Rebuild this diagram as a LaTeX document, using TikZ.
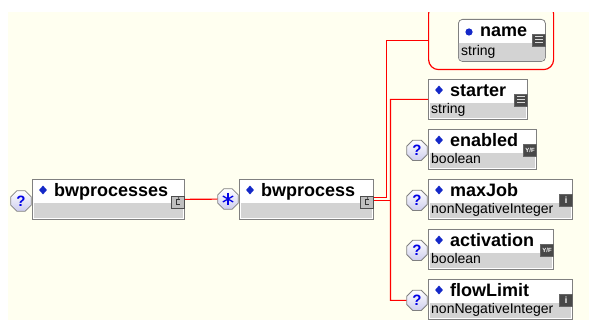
\documentclass[tikz,border=0pt]{standalone}
\usepackage{fontspec}
\setmainfont{Liberation Sans}
\usetikzlibrary{shapes.geometric,calc}
\definecolor{cream}{RGB}{255,255,240}
\definecolor{boxgrey}{RGB}{128,128,128}
\definecolor{typegrey}{RGB}{211,211,211}
\definecolor{icondark}{RGB}{72,72,72}
\definecolor{qblue}{RGB}{0,0,230}
\definecolor{qfill}{RGB}{205,205,238}
\definecolor{diamblue}{RGB}{20,40,200}

\begin{document}
\begin{tikzpicture}[x=1pt,y=-1pt,
    elembox/.style={draw=boxgrey,fill=white,line width=0.8pt,minimum height=40pt,inner sep=0pt},
    attrbox/.style={elembox,rounded corners=4pt,minimum height=42pt},
    grpbox/.style={draw=red,line width=1.2pt,rounded corners=10pt,minimum width=125pt,minimum height=66pt,inner sep=0pt},
    titletext/.style={font=\fontsize{18}{20}\selectfont\bfseries,inner sep=0pt,anchor=base west},
    typetext/.style={font=\fontsize{14}{16}\selectfont,inner sep=0pt,anchor=base west},
    elemmark/.style={diamond,fill=diamblue,minimum width=8pt,minimum height=9pt,inner sep=0pt},
    optmark/.style={regular polygon,regular polygon sides=8,minimum size=22pt,inner sep=0pt,
      draw=gray,line width=0.8pt,top color=white,bottom color=qfill,text=qblue,
      font=\fontsize{15}{15}\selectfont\bfseries},
    icon/.style={draw=black!60,fill=icondark,minimum width=13pt,minimum height=12pt,inner sep=0pt,text=white,anchor=east},
    icon-str/.style={node contents={},path picture={
      \draw[white!70!gray,line width=1pt] ([shift={(2.5pt,3pt)}]path picture bounding box.west) -- ([shift={(-2.5pt,3pt)}]path picture bounding box.east);
      \draw[white!70!gray,line width=1pt] ([xshift=2.5pt]path picture bounding box.west) -- ([xshift=-2.5pt]path picture bounding box.east);
      \draw[white!70!gray,line width=1pt] ([shift={(2.5pt,-3pt)}]path picture bounding box.west) -- ([shift={(-2.5pt,-3pt)}]path picture bounding box.east);}},
    icon-bool/.style={node contents={Y/F},font=\fontsize{6}{6}\selectfont\bfseries},
    icon-int/.style={node contents={i},font=\fontsize{9}{9}\selectfont\bfseries},
    seqicon/.style={icon,fill=gray!50,draw=black!70,node contents={},path picture={
      \draw[black!80,line width=0.7pt] ([shift={(2pt,2.5pt)}]path picture bounding box.center) -- ([shift={(-1.5pt,2.5pt)}]path picture bounding box.center)
        -- ([shift={(-1.5pt,-2.5pt)}]path picture bounding box.center) -- ([shift={(2pt,-2.5pt)}]path picture bounding box.center);
      \fill[black!80] ([shift={(0.5pt,4pt)}]path picture bounding box.center) circle (0.8pt);}},
    conn/.style={draw=red,line width=1.2pt},
  ]
\useasboundingbox (0,0) rectangle (589,320);
\fill[cream] (8,12) rectangle (589,320);

% attribute group, cut off at the top
\node[grpbox,anchor=north west] (grp) at (428,3) {};
\fill[white] (0,0) rectangle (589,12);

% attribute name
\node[attrbox,minimum width=87pt,anchor=north west] (name) at (458,19) {};
\begin{scope}
  \clip[rounded corners=4pt] ([shift={(0.8pt,0.8pt)}]name.south west) rectangle ([shift={(-0.8pt,-0.8pt)}]name.north east);
  \fill[typegrey] (name.south west) rectangle ([yshift=19pt]name.south east);
\end{scope}
\fill[diamblue] ([shift={(11pt,-13pt)}]name.north west) circle (3.6pt);
\node[titletext] (name-t) at ([shift={(22pt,-18pt)}]name.north west) {name};
\node[typetext] (name-ty) at ([shift={(3pt,-37pt)}]name.north west) {string};
\node (name-ic) at ([yshift=-21pt]name.north east) [icon,icon-str];

% root element
\node[optmark] (q0) at (21,201) {?};
\node[elembox,minimum width=152pt,anchor=north west] (bwprocesses) at (32,179) {};
\fill[typegrey] ([shift={(1.5pt,1.5pt)}]bwprocesses.south west) rectangle ([shift={(-1.5pt,17pt)}]bwprocesses.south east);
\node[elemmark] at ([shift={(11pt,-11pt)}]bwprocesses.north west) {};
\node[titletext] (bwprocesses-t) at ([shift={(22pt,-18pt)}]bwprocesses.north west) {bwprocesses};
\node (bwprocesses-ic) at ([yshift=-23pt]bwprocesses.north east) [seqicon];

% repeated element
\node[optmark] (many) at (228,199) {};
\foreach \a in {90,30,150}
  \draw[qblue,line width=1.3pt] ($(many)+(\a:6pt)$) -- ($(many)+(\a+180:6pt)$);
\node[elembox,minimum width=134pt,anchor=north west] (bwprocess) at (239,179) {};
\fill[typegrey] ([shift={(1.5pt,1.5pt)}]bwprocess.south west) rectangle ([shift={(-1.5pt,17pt)}]bwprocess.south east);
\node[elemmark] at ([shift={(11pt,-11pt)}]bwprocess.north west) {};
\node[titletext] (bwprocess-t) at ([shift={(22pt,-18pt)}]bwprocess.north west) {bwprocess};
\node (bwprocess-ic) at ([yshift=-23pt]bwprocess.north east) [seqicon];

% child elements
\foreach \n/\t/\w/\typ/\ic/\o in {starter/79/99/string/str/0,
    enabled/129/108/boolean/bool/1,
    maxJob/179/144/nonNegativeInteger/int/1,
    activation/229/125/boolean/bool/1,
    flowLimit/279/144/nonNegativeInteger/int/1}{
  \node[elembox,minimum width=\w pt,anchor=north west] (\n) at (428,\t) {};
  \fill[typegrey] ([shift={(1.5pt,1.5pt)}]\n.south west) rectangle ([shift={(-1.5pt,17pt)}]\n.south east);
  \node[elemmark] at ([shift={(11pt,-11pt)}]\n.north west) {};
  \node[titletext] (\n-t) at ([shift={(22pt,-18pt)}]\n.north west) {\n};
  \node[typetext] (\n-ty) at ([shift={(3pt,-35pt)}]\n.north west) {\typ};
  \node (\n-ic) at ([yshift=-21pt]\n.north east) [icon,icon-\ic];
  \ifnum\o=1 \node[optmark] (\n-q) at ([xshift=-11pt,yshift=-1pt]\n.west) {?};\fi
}

% connectors
\coordinate (bus) at (390.5,0);
\coordinate (attjoin) at (386.5,40.5);
\coordinate (forkup) at ([yshift=1.5pt]bwprocess.east);
\coordinate (forkdown) at ([yshift=-1.5pt]bwprocess.east);
\draw[conn] (bwprocesses.east) -- (many);
\draw[conn] (forkup) -| (attjoin) -- (grp.west |- attjoin);
\draw[conn] (forkdown) -- (bus |- forkdown);
\draw[conn] (starter.west) -| (bus |- flowLimit-q) -- (flowLimit-q);
\end{tikzpicture}
\end{document}
